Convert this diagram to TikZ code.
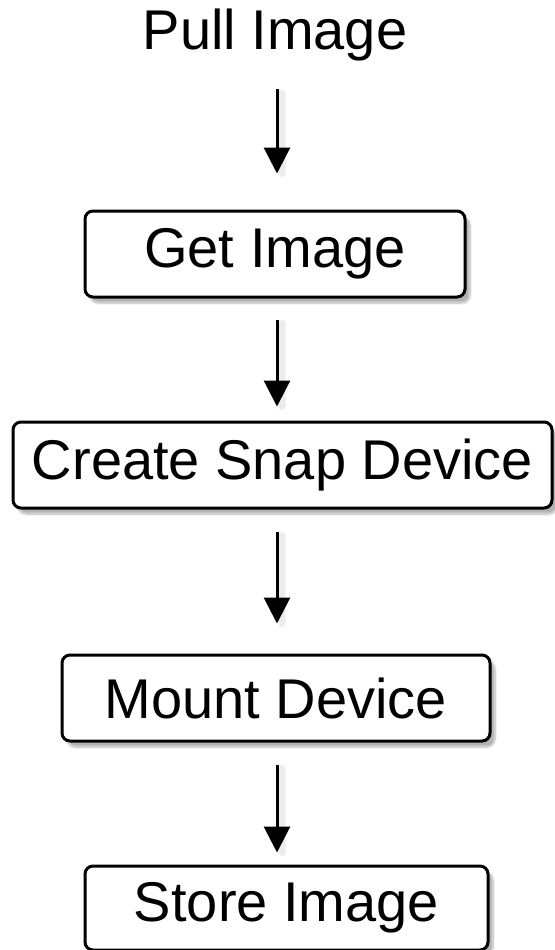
\documentclass[tikz,border=0pt]{standalone}
\usepackage{fontspec}
\setmainfont{Liberation Sans}
\usetikzlibrary{arrows.meta,shadows.blur}
\begin{document}
\begin{tikzpicture}[x=1pt,y=-1pt,
  every node/.style={font=\fontsize{56}{62}\selectfont, inner sep=0pt},
  stepbox/.style={draw=black, line width=3pt, rounded corners=8pt, fill=white,
    minimum height=86pt,
    blur shadow={shadow xshift=5pt, shadow yshift=-6pt, shadow blur steps=8, shadow opacity=30}},
  flowshade/.style={line width=7pt, draw=black!12, line cap=round},
  flow/.style={line width=3pt, -{Triangle[width=26pt,length=26pt]}}
]
\useasboundingbox (0,0) rectangle (554,950);

\node (pull) at (275,35) {Pull Image};
\node[stepbox, minimum width=380pt] (get) at (275,254) {Get Image};
\node[stepbox, minimum width=539pt] (snap) at (282.5,465) {Create Snap Device};
\node[stepbox, minimum width=428pt] (mount) at (276,698) {Mount Device};
\node[stepbox, minimum width=403pt, minimum height=84pt] (store) at (286.5,908) {Store Image};

\coordinate (x) at (277,0);
\coordinate (xs) at (282,0);
% soft shade beside each arrow
\begin{scope}[transparency group, opacity=0.6]
\draw[flowshade, shorten <=32pt, shorten >=36pt] (pull.south -| xs) -- (get.north -| xs);
\draw[flowshade, shorten <=25pt, shorten >=14pt] (get.south -| xs) -- (snap.north -| xs);
\draw[flowshade, shorten <=26pt, shorten >=30pt] (snap.south -| xs) -- (mount.north -| xs);
\draw[flowshade, shorten <=26pt, shorten >=12pt] (mount.south -| xs) -- (store.north -| xs);
\end{scope}
\draw[flow, shorten <=28pt, shorten >=36pt] (pull.south -| x) -- (get.north -| x);
\draw[flow, shorten <=21pt, shorten >=14pt] (get.south -| x) -- (snap.north -| x);
\draw[flow, shorten <=22pt, shorten >=30pt] (snap.south -| x) -- (mount.north -| x);
\draw[flow, shorten <=22pt, shorten >=12pt] (mount.south -| x) -- (store.north -| x);
\end{tikzpicture}
\end{document}
